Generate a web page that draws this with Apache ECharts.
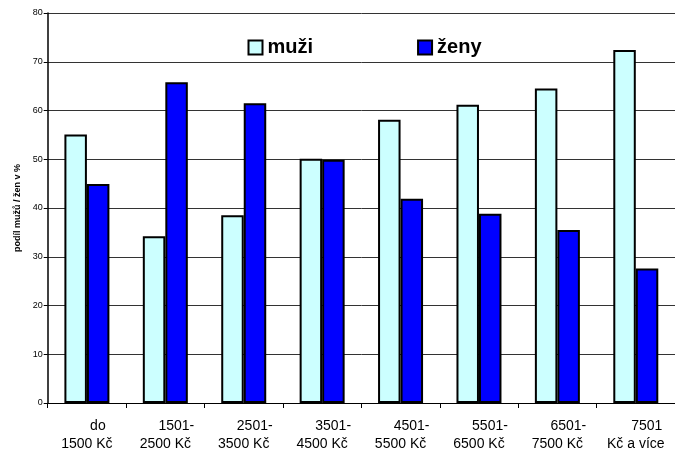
<!DOCTYPE html>
<html>
<head>
<meta charset="utf-8">
<script src="https://cdn.jsdelivr.net/npm/echarts@6/dist/echarts.min.js"></script>
<style>html,body{margin:0;padding:0;background:#fff}#c{width:675px;height:453px}</style>
</head>
<body>
<div id="c"></div>
<script>
var catLine1 = ['do', '1501-', '2501-', '3501-', '4501-', '5501-', '6501-', '7501'];
var catLine2 = ['1500 Kč', '2500 Kč', '3500 Kč', '4500 Kč', '5500 Kč', '6500 Kč', '7500 Kč', 'Kč a více'];
var categories = catLine1.map(function (a, i) { return a + '\n' + catLine2[i]; });
var muzi = [55.1, 34.2, 38.5, 50.1, 58.1, 61.2, 64.5, 72.4];
var zeny = [44.9, 65.8, 61.5, 49.9, 41.9, 38.8, 35.5, 27.6];
var yTicks = { min: 0, max: 80, interval: 10 };

var chart = echarts.init(document.getElementById('c'), null, { renderer: 'canvas' });
chart.setOption({
  animation: false,
  backgroundColor: '#ffffff',
  grid: { left: 47.7, right: -2, top: 13, bottom: 50, containLabel: false },
  legend: {
    data: ['muži', 'ženy'],
    top: 32.5,
    left: 242.5,
    itemWidth: 14,
    itemHeight: 14,
    itemGap: 104,
    icon: 'rect',
    textStyle: { fontFamily: 'Liberation Sans, Arial', fontWeight: 'bold', fontSize: 20, color: '#000', padding: [0, 0, 0, 0] },
    selectedMode: false
  },
  xAxis: {
    type: 'category',
    data: categories,
    axisLine: { lineStyle: { color: '#000', width: 1 } },
    axisTick: { show: true, length: 5, lineStyle: { color: '#000' }, alignWithLabel: false },
    axisLabel: {
      interval: 0,
      margin: 14,
      color: '#000',
      fontFamily: 'Liberation Sans, Arial',
      fontSize: 14,
      lineHeight: 18,
      formatter: function (v) {
        var p = v.split('\n');
        return '{a|' + p[0] + '}\n{b|' + p[1] + '}';
      },
      rich: {
        a: { fontFamily: 'Liberation Sans, Arial', fontSize: 14, lineHeight: 18, color: '#000', padding: [0, 0, 0, 22] },
        b: { fontFamily: 'Liberation Sans, Arial', fontSize: 14, lineHeight: 18, color: '#000' }
      }
    },
    splitLine: { show: false }
  },
  yAxis: {
    type: 'value',
    min: yTicks.min,
    max: yTicks.max,
    interval: yTicks.interval,
    name: 'podíl mužů / žen v %',
    nameLocation: 'middle',
    nameGap: 25,
    nameTextStyle: { fontFamily: 'Liberation Sans, Arial', fontWeight: 'bold', fontSize: 9, color: '#000' },
    axisLine: { show: true, lineStyle: { color: '#000', width: 1.5 } },
    axisTick: { show: true, length: 4, lineStyle: { color: '#000' } },
    axisLabel: { color: '#000', fontFamily: 'Liberation Sans, Arial', fontSize: 9, margin: 5 },
    splitLine: { show: true, lineStyle: { color: '#333', width: 1 } }
  },
  series: [
    {
      name: 'muži',
      type: 'bar',
      data: muzi,
      barWidth: 22.5,
      barGap: '0%',
      itemStyle: { color: '#CCFFFF', borderColor: '#000', borderWidth: 2 }
    },
    {
      name: 'ženy',
      type: 'bar',
      data: zeny,
      barWidth: 22.5,
      barGap: '0%',
      itemStyle: { color: '#0000FF', borderColor: '#000', borderWidth: 2 }
    }
  ]
});
</script>
</body>
</html>
